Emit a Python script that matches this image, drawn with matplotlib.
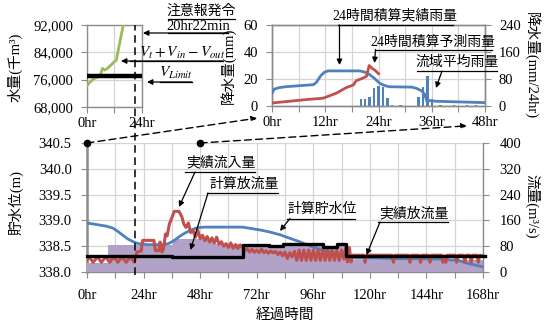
import numpy as np
import matplotlib.pyplot as plt
from matplotlib import transforms
from matplotlib.patches import FancyArrowPatch
from matplotlib.ticker import MultipleLocator, FixedLocator

plt.rcParams['font.family'] = ['Liberation Serif', 'Noto Sans CJK JP']
plt.rcParams['mathtext.fontset'] = 'stix'
plt.rcParams['font.size'] = 10.5
plt.rcParams['axes.unicode_minus'] = False

# reservoir volume, first 24 h (thousand m3)
vol_hr = [0, 1.5, 3, 4.5, 6, 6.7, 7.7, 8.9, 10.5, 11.8, 12.8, 13.2, 14.5, 15.8, 17]
vol = [74300, 75400, 76300, 76700, 77600, 79300, 78800, 79300, 80300, 81200,
       81700, 83200, 87500, 92000, 96000]
v_limit = 77000
alert_hr = 20 + 22 / 60  # 20hr22min

# rainfall, first 48 h
rain_hr = [20, 21, 22, 23, 24, 25, 26, 27, 29, 33, 34, 35, 36, 38, 41, 44, 46]
rain_mm = [5, 5, 7, 13, 15, 14, 6, 1, 1, 7, 14, 22, 5, 1, 1, 0.5, 1]
rain24_act = [(0, 38), (0.5, 50), (1.5, 54), (3, 57), (5, 59), (7, 61), (9.3, 63),
              (10, 70), (11, 90), (11.8, 100), (12.6, 104), (19.8, 104), (21, 100),
              (22, 93), (23, 83), (24.3, 67), (25.5, 60), (26.5, 57), (31.5, 56),
              (32.6, 52), (33.7, 45), (34.4, 35), (34.9, 14), (35.3, 16), (37, 14),
              (48, 10)]
rain24_fcst = [(0, 9), (4.7, 15), (8.5, 20), (11.5, 23), (12.3, 27), (14.5, 38),
               (16.8, 55), (18.3, 62), (19, 75), (20.2, 81), (21.3, 88), (21.9, 120),
               (22.7, 110), (23.2, 106), (24, 96)]

# reservoir operation, 168 h
level = [(0, 338.95), (4, 338.92), (8, 338.89), (11, 338.85), (13, 338.79), (15, 338.72),
         (17, 338.65), (19, 338.60), (21, 338.56), (23, 338.54), (26, 338.53), (33, 338.53),
         (35, 338.56), (37, 338.61), (39, 338.68), (41, 338.74), (43, 338.79), (45, 338.83),
         (47, 338.86), (50, 338.87), (66, 338.87), (70, 338.84), (74, 338.81), (78, 338.77),
         (82, 338.72), (85, 338.67), (90, 338.59), (95, 338.50), (100, 338.42), (106, 338.36),
         (110, 338.29), (114, 338.27), (130, 338.26), (150, 338.25), (158, 338.22),
         (162, 338.16), (168, 338.10)]
inflow = [(0, 36), (0.9, 47), (2.6, 30), (4.4, 47), (6.1, 30), (7.9, 47), (9.6, 30),
          (11.4, 47), (13.1, 30), (14.9, 47), (16.6, 30), (18.4, 47), (20.1, 30),
          (20.8, 50), (21.2, 62), (23.0, 65), (23.6, 98), (28.4, 98), (29.0, 66), (30.5, 66),
          (31.0, 93), (31.8, 62), (32.5, 72), (33.3, 118), (34, 112), (35, 150), (36, 168),
          (37, 188), (39, 188), (40.2, 172), (41, 150), (42, 138), (43, 152), (44, 122),
          (45, 128), (46, 108), (47, 130), (48, 103), (49, 114), (50, 97), (51, 110),
          (52, 93), (53, 106), (54, 90), (55, 108), (56, 86), (57, 94), (58, 80), (59, 88),
          (60, 76), (61, 90), (62, 74), (63, 85), (64, 73), (65, 84), (66, 76), (67, 66),
          (68, 72), (69, 62), (70, 70), (71, 61), (72, 68), (73, 60), (74, 71), (75, 60),
          (76, 66), (77, 58), (78, 65), (79, 59), (80, 64), (81, 54), (82, 62), (83, 50),
          (84, 62), (85, 42), (86, 60), (87, 47), (88, 64), (89, 36), (90, 68), (91, 36),
          (92, 68), (93, 36), (94, 68), (95, 36), (96, 68), (97, 36), (98, 68), (99, 36),
          (100, 68), (101, 36), (102, 68), (103, 36), (104, 68), (105, 36), (106, 68),
          (107, 36), (108, 68), (109, 40), (109.8, 76), (110.5, 31), (111.3, 76), (112, 31),
          (112.8, 52), (117.4, 52), (118, 30), (118.6, 52), (129.4, 52), (130, 30),
          (130.6, 52), (136.4, 52), (137, 30), (137.6, 52), (140.9, 52), (141.5, 30),
          (142.1, 52), (144.9, 52), (145.5, 30), (146.1, 52), (150.4, 52), (151, 30),
          (151.6, 50), (152.2, 30), (152.8, 52), (156.2, 52), (156.8, 30), (157.4, 52),
          (159.7, 52), (160.3, 30), (160.9, 52), (162.4, 52), (163, 30), (163.6, 52),
          (165.4, 52), (166, 30), (166.6, 52), (168, 50)]
calc_out_hr = [0, 8.7, 36.3, 53.6, 66.0, 110.0, 168]
calc_out = [28, 85, 103, 86, 80, 36, 36]
act_out_hr = [0, 36, 56.5, 66, 77, 83, 100, 106, 110, 169]
act_out = [49, 47, 45, 85, 80, 86, 78, 86, 48.5, 48.5]

BLUE, RED, GREEN = '#4F81BD', '#C0504D', '#9BBB59'
PURPLE = '#B3A2C7'
GRID, SPINE = '#D4D4D4', '#8C8C8C'

W, H = 544, 325
fig = plt.figure(figsize=(W / 100, H / 100), dpi=100)


def box(l, t, r, b):
    return [l / W, 1 - b / H, (r - l) / W, (b - t) / H]


def fp(x, y):
    return (x / W, 1 - y / H)


def style(a, sides=('left', 'right', 'top', 'bottom')):
    for s in a.spines.values():
        s.set_visible(False)
    for s in sides:
        a.spines[s].set_visible(True)
        a.spines[s].set_color(SPINE)
        a.spines[s].set_linewidth(1.0)
    a.tick_params(which='both', direction='out', length=4, color=SPINE, width=0.8)


def unzip(pairs):
    return [p[0] for p in pairs], [p[1] for p in pairs]


# ---- volume inset ----
axv = fig.add_axes(box(87, 25, 142, 107))
style(axv)
axv.plot(vol_hr, vol, color=GREEN, lw=2.0, zorder=3)
axv.plot([0, 24], [v_limit, v_limit], color='black', lw=3.2, zorder=4, solid_capstyle='butt')
axv.set_xlim(0, 24)
axv.set_ylim(68000, 92000)
axv.set_yticks([68000, 76000, 84000, 92000])
axv.set_yticklabels(['68,000', '76,000', '84,000', '92,000'])
axv.set_xticks([0, 24])
axv.set_xticklabels(['0hr', '24hr'])
axv.xaxis.set_minor_locator(FixedLocator([12]))
axv.grid(True, which='both', color=GRID, lw=0.9)
axv.set_axisbelow(True)
axv.tick_params(axis='y', pad=6)
axv.tick_params(axis='x', pad=3)
axv.set_ylabel('水量(千m³)')
axv.yaxis.set_label_coords(-1.18, 0.48)

# ---- rainfall inset ----
axr = fig.add_axes(box(272, 25, 485, 106))
style(axr)
axr.bar(rain_hr, rain_mm, width=0.55, color=BLUE, zorder=2)
axr.set_xlim(0, 48)
axr.set_ylim(0, 60)
axr.set_yticks([0, 20, 40, 60])
axr.set_xticks([0, 12, 24, 36, 48])
axr.set_xticklabels(['0hr', '12hr', '24hr', '36hr', '48hr'])
axr.xaxis.set_minor_locator(MultipleLocator(6))
axr.grid(True, which='both', color=GRID, lw=0.9)
axr.set_axisbelow(True)
axr.tick_params(axis='y', pad=6)
axr.tick_params(axis='x', pad=3)
axr.set_ylabel('降水量(mm)')
axr.yaxis.set_label_coords(-0.17, 0.5)

axr2 = axr.twinx()
style(axr2)
x, y = unzip(rain24_act)
axr2.plot(x, y, color=BLUE, lw=2.0, zorder=3)
x, y = unzip(rain24_fcst)
axr2.plot(x, y, color=RED, lw=2.0, zorder=4)
axr2.set_ylim(0, 240)
axr2.set_yticks([0, 80, 160, 240])
axr2.tick_params(axis='y', pad=6)
axr2.set_ylabel('降水量(mm/24hr)', rotation=270, va='center')
axr2.yaxis.set_label_coords(1.22, 0.5)

# ---- main chart ----
ax = fig.add_axes(box(87, 143, 483, 272))
style(ax, ('left', 'bottom'))
ax.spines['left'].set_linewidth(1.8)
ax.set_xlim(0, 168)
ax.set_ylim(338.0, 340.5)
ax.set_yticks(np.arange(338.0, 340.51, 0.5))
ax.yaxis.set_major_formatter(plt.FormatStrFormatter('%.1f'))
ax.set_xticks(range(0, 169, 24))
ax.set_xticklabels([f'{h}hr' for h in range(0, 169, 24)])
ax.xaxis.set_minor_locator(MultipleLocator(12))
ax.grid(True, which='both', color=GRID, lw=0.9)
ax.tick_params(axis='y', pad=7)
ax.tick_params(axis='x', pad=8)
ax.set_ylabel('貯水位(m)')
ax.yaxis.set_label_coords(-0.16, 0.54)
ax.set_xlabel('経過時間', va='center')
ax.xaxis.set_label_coords(0.5, -0.33)

axq = ax.twinx()
style(axq, ('right',))
axq.set_ylim(0, 400)
axq.set_yticks(range(0, 401, 80))
axq.tick_params(axis='y', pad=8)
axq.set_ylabel('流量(m³/s)', rotation=270, va='center')
axq.yaxis.set_label_coords(1.125, 0.51)

axq.fill_between(calc_out_hr, calc_out, step='post', color=PURPLE, lw=0, zorder=1)
x, y = unzip(level)
axq.plot(x, y, color=BLUE, lw=2.0, zorder=2, transform=ax.transData)
x, y = unzip(inflow)
axq.plot(x, y, color=RED, lw=2.2, zorder=3)
axq.step(act_out_hr, act_out, where='post', color='black', lw=2.4, zorder=4, clip_on=False)
axq.set_xlim(0, 168)
axq.set_ylim(0, 400)

# alert time marker across both panels
blend = transforms.blended_transform_factory(ax.transData, fig.transFigure)
fig.add_artist(plt.Line2D([alert_hr, alert_hr], [fp(0, 275)[1], fp(0, 25)[1]],
                          transform=blend, color='black', lw=1.1, ls=(0, (5, 3))))

# zoom connectors from main chart to the rainfall panel
ax.plot([0, 48], [340.5, 340.5], ls='none', marker='o', ms=4.5, color='black',
        clip_on=False, zorder=5)
for hx, tgt in [(0, (-0.07, -0.15)), (48, (0.915, -0.245))]:
    ax.annotate('', xy=tgt, xycoords=axr.transAxes, xytext=(hx, 340.5), textcoords='data',
                arrowprops=dict(arrowstyle='-|>', color='black', lw=1.0, ls=(0, (5, 3)),
                                mutation_scale=8, shrinkA=0, shrinkB=0),
                annotation_clip=False)


def underline(x0, x1, y):
    fig.add_artist(plt.Line2D([x0 / W, x1 / W], [1 - y / H] * 2, color='black', lw=0.9))


def callout(text, center, ul, head, tail, size=10):
    fig.text(*fp(*center), text, ha='center', va='center', fontsize=size)
    underline(*ul)
    fig.add_artist(FancyArrowPatch(fp(*tail), fp(*head), transform=fig.transFigure,
                                   arrowstyle='-|>', mutation_scale=8, color='black',
                                   lw=0.9, shrinkA=0, shrinkB=0))


fig.text(*fp(201.5, 11), '注意報発令', ha='center', va='center', fontsize=10)
underline(168, 235, 19)
callout('20hr22min', (198, 26), (168, 228, 33), (143, 33), (228, 33), size=10.5)
callout('$V_t+V_{in}-V_{out}$', (182, 53), (130, 223, 61), (121, 61), (223, 61), size=11)
callout('$V_{Limit}$', (176, 73), (160, 192, 82), (147, 82), (192, 82), size=11)

callout('24時間積算実績雨量', (395, 16), (338, 453, 25), (339.5, 65), (339.5, 25))
callout('24時間積算予測雨量', (433, 42), (375, 492, 49.5), (374.5, 63), (375.5, 49.5))
callout('流域平均雨量', (457, 62), (417, 497, 71), (436, 88), (442, 71))

callout('実績流入量', (221, 163), (185, 255, 172), (179, 207), (195, 172))
callout('計算放流量', (244, 184), (207, 278, 193), (190.5, 250), (208, 193))
callout('計算貯水位', (322, 209), (287, 355, 218.5), (280, 231), (290, 218.5))
callout('実績放流量', (414, 214), (378, 448, 222), (366.5, 255), (380, 222))

fig.savefig('out.png', dpi=100)
